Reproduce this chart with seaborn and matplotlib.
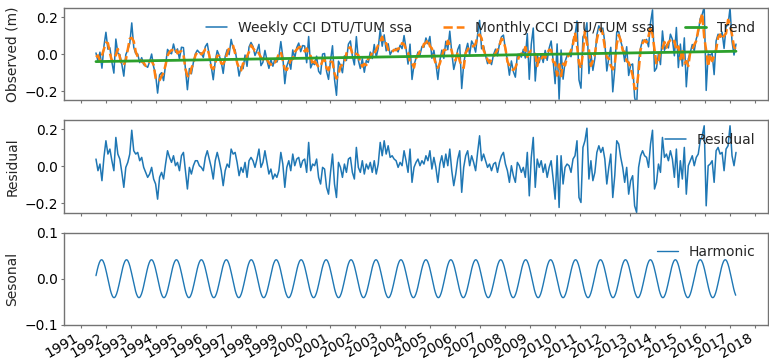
import numpy as np
import pandas as pd
import matplotlib
matplotlib.use("Agg")
import matplotlib.pyplot as plt
import seaborn as sns

# ---------------- data ----------------
t_start, t_end = 1991.60, 2017.255          # first / last sample (decimal year)

resid_1992_1996 = [0.04, -0.023, 0.013, -0.077, 0.049, 0.139, 0.067, 0.094, 0.031, -0.023,
                   0.157, 0.067, 0.04, -0.032, -0.113, -0.005, 0.022, 0.067, 0.196, 0.085,
                   0.067, 0.076, 0.031, 0.049, -0.005, -0.032, -0.059, -0.041, -0.005, -0.068,
                   -0.095, -0.177, -0.059, -0.032, -0.068, 0.013, 0.085, 0.049, 0.022, 0.058,
                   0.004, 0.022, -0.023, 0.058, 0.076, -0.023, -0.122, -0.005, -0.041, 0.004,
                   0.031]
resid_1996_2000 = [0.031, 0.004, -0.005, -0.023, 0.049, 0.085, 0.04, -0.005, -0.068, 0.031,
                   0.076, 0.031, -0.023, -0.104, -0.023, 0.013, -0.005, 0.094, 0.067, 0.076,
                   0.022, -0.05, -0.005, -0.032, 0.022, -0.059, 0.031, 0.049, 0.031, -0.005,
                   0.04, 0.094, -0.005, 0.022, 0.085, 0.022, -0.041, -0.014, -0.068, -0.041,
                   -0.059, -0.023, 0.076, 0.013, -0.113, -0.005, 0.031, -0.023, 0.067, 0.004,
                   0.04, 0.049, -0.005]
resid_2000_2004 = [0.031, 0.04, -0.032, 0.13, -0.023, 0.013, 0.004, 0.04, -0.059, -0.095,
                   -0.005, -0.014, -0.113, -0.15, -0.032, 0.067, -0.095, -0.168, 0.022, -0.005,
                   -0.059, 0.013, -0.032, 0.04, 0.049, -0.032, -0.068, 0.103, -0.005, -0.032,
                   0.031, -0.041, 0.013, -0.014, 0.022, -0.032, 0.031, -0.041, 0.013, 0.13,
                   0.058, 0.139, 0.067, 0.112, 0.049, 0.058, 0.04, 0.031, -0.005, 0.022,
                   0.004, 0.085, 0.031]
resid_2004_2008 = [-0.032, 0.094, -0.086, -0.005, 0.022, 0.04, 0.004, 0.031, 0.013, 0.058,
                   0.031, 0.085, -0.014, 0.049, -0.005, -0.086, 0.013, 0.058, -0.005, 0.067,
                   0.004, 0.094, -0.023, -0.104, -0.041, 0.04, 0.085, -0.14, -0.005, 0.058,
                   0.085, 0.004, 0.058, 0.022, -0.023, 0.076, 0.166, 0.031, 0.067, 0.031,
                   -0.005, 0.013, -0.023, 0.013, 0.022, -0.032, 0.022, 0.058, 0.076, 0.013,
                   -0.023, -0.086, 0.004]
resid_2008_2013 = [-0.05, -0.086, 0.022, 0.004, -0.032, -0.005, -0.059, 0.076, -0.159, 0.049,
                   0.157, -0.113, 0.04, -0.005, 0.031, -0.032, 0.013, -0.059, -0.005, 0.031,
                   -0.068, -0.177, 0.058, -0.222, 0.058, -0.095, -0.005, 0.013, 0.004, -0.032,
                   0.04, 0.058, 0.139, -0.168, -0.195, 0.103, 0.139, 0.207, -0.068, 0.031,
                   -0.077, -0.032, 0.076, 0.112, 0.076, 0.103, 0.04, -0.095, -0.005, 0.067,
                   -0.168, -0.05, 0.139]
resid_2013_2017 = [0.121, 0.049, -0.005, -0.086, -0.005, -0.15, -0.077, -0.05, -0.213, -0.249,
                   -0.005, 0.058, 0.085, 0.058, 0.049, -0.005, 0.121, 0.196, -0.122, -0.086,
                   0.013, -0.032, 0.157, 0.049, 0.067, 0.031, 0.085, 0.04, -0.059, 0.094,
                   -0.113, 0.031, -0.068, 0.103, -0.15, 0.004, 0.031, 0.058, 0.004, 0.049,
                   0.067, 0.139, 0.166, 0.22, -0.213, 0.004, 0.013, 0.031, -0.086, 0.085,
                   0.103, 0.067, 0.076, -0.023, 0.094, 0.112, 0.22, 0.058, 0.004, 0.076]

trend_start, trend_end = -0.040, 0.016       # linear trend (m) at first / last sample
harm_amp = 0.041                             # annual harmonic amplitude (m)
harm_peak = 1991.824                         # time of first maximum
harm_period = 1.0                            # years

year_ticks = list(range(1991, 2019))

# ---------------- build series ----------------
residual = np.array(resid_1992_1996 + resid_1996_2000 + resid_2000_2004 +
                    resid_2004_2008 + resid_2008_2013 + resid_2013_2017)
t = np.linspace(t_start, t_end, len(residual))
trend = trend_start + (trend_end - trend_start) * (t - t_start) / (t_end - t_start)
seasonal_at_t = harm_amp * np.cos(2 * np.pi * (t - harm_peak) / harm_period)
observed = residual + trend + seasonal_at_t
monthly = pd.Series(observed).rolling(3, center=True, min_periods=1).mean().values

t_h = np.arange(t_start, t_end, 7 / 365.25)
harmonic = harm_amp * np.cos(2 * np.pi * (t_h - harm_peak) / harm_period)

# ---------------- plot ----------------
sns.set_style("ticks", {"axes.edgecolor": "0.45"})
plt.rcParams["font.family"] = ["DejaVu Sans"]
plt.rcParams["font.size"] = 10
for k in ("xtick", "ytick"):
    plt.rcParams[f"{k}.major.size"] = 2.2
    plt.rcParams[f"{k}.major.width"] = 0.8
    plt.rcParams[f"{k}.major.pad"] = 1.8

fig, axes = plt.subplots(3, 1, sharex=True, figsize=(7.69, 3.59), dpi=100,
                         gridspec_kw=dict(hspace=0.215))
fig.subplots_adjust(left=0.0832, right=0.9987, top=0.9777, bottom=0.095)

blue, orange, green = "#1f77b4", "#ff7f0e", "#2ca02c"
ax1, ax2, ax3 = axes

sns.lineplot(x=t, y=observed, ax=ax1, color=blue, lw=1.1, label="Weekly CCI DTU/TUM ssa",
             estimator=None, sort=False)
sns.lineplot(x=t, y=monthly, ax=ax1, color=orange, lw=1.8, linestyle="--",
             label="Monthly CCI DTU/TUM ssa", estimator=None, sort=False)
sns.lineplot(x=[t_start, t_end], y=[trend_start, trend_end], ax=ax1, color=green, lw=2.0,
             label="Trend", estimator=None, sort=False)
ax1.set_ylim(-0.25, 0.25)
ax1.set_yticks([-0.2, 0.0, 0.2])
ax1.set_ylabel("Observed (m)")
ax1.legend(loc="upper right", ncol=3, frameon=False, handlelength=1.5,
           columnspacing=2.2, fontsize=10)

sns.lineplot(x=t, y=residual, ax=ax2, color=blue, lw=1.1, label="Residual",
             estimator=None, sort=False)
ax2.set_ylim(-0.25, 0.25)
ax2.set_yticks([-0.2, 0.0, 0.2])
ax2.set_ylabel("Residual")
ax2.legend(loc="upper right", frameon=False, handlelength=1.5, fontsize=10)

sns.lineplot(x=t_h, y=harmonic, ax=ax3, color=blue, lw=1.0, label="Harmonic",
             estimator=None, sort=False)
ax3.set_ylim(-0.1, 0.1)
ax3.set_yticks([-0.1, 0.0, 0.1])
ax3.set_ylabel("Sesonal")
ax3.legend(loc="upper right", frameon=False, handlelength=1.5, fontsize=10)

ax3.set_xticks(year_ticks)
ax3.set_xticklabels([str(y) for y in year_ticks], rotation=30, ha="right")
for ax in axes:
    ax.tick_params(color="0.45", labelcolor="black", labelsize=10)
    for s in ax.spines.values():
        s.set_visible(True)
        s.set_linewidth(1.0)

fig.savefig("out.png", dpi=100)
